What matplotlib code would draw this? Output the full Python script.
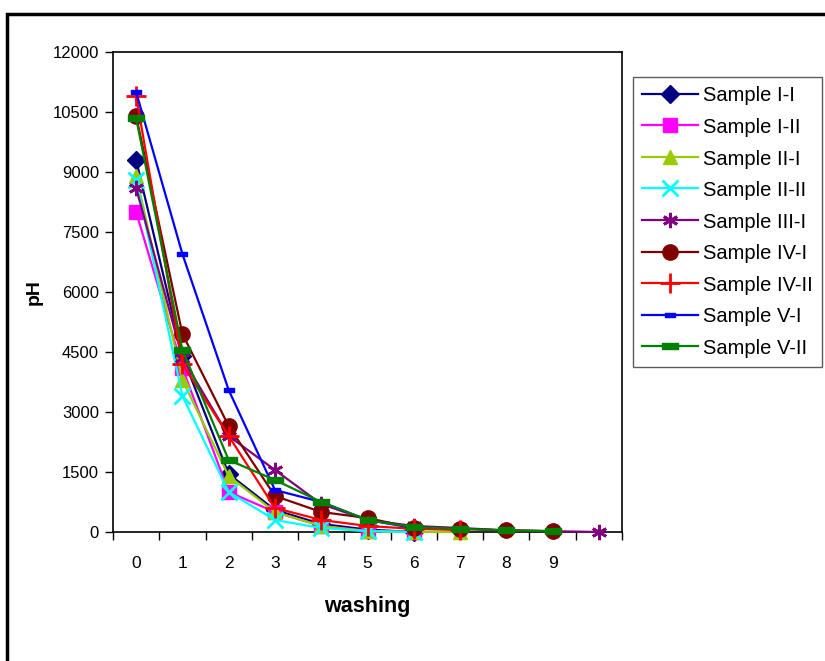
import matplotlib
matplotlib.use("Agg")
import matplotlib.pyplot as plt
from matplotlib.patches import Rectangle
from matplotlib.path import Path

plt.rcParams['font.family'] = ['Liberation Sans', 'DejaVu Sans']

categories = ['0', '1', '2', '3', '4', '5', '6', '7', '8', '9', '']
series_names = ['Sample I-I', 'Sample I-II', 'Sample II-I', 'Sample II-II', 'Sample III-I',
                'Sample IV-I', 'Sample IV-II', 'Sample V-I', 'Sample V-II']
s_I_I = [9300, 4400, 1450, 550, 200, 60, 0]
s_I_II = [8000, 4100, 1000, 500, 150, 30, 0]
s_II_I = [8900, 3800, 1400, 500, 150, 20, 0, 0]
s_II_II = [8800, 3400, 1000, 300, 100, 20, 0]
s_III_I = [8600, 4350, 2400, 1550, 700, 300, 150, 100, 40, 20, 0]
s_IV_I = [10400, 4950, 2650, 900, 500, 350, 100, 80, 40, 20]
s_IV_II = [10900, 4200, 2400, 600, 300, 150, 80, 50]
s_V_I = [11000, 6950, 3550, 1050, 750, 300, 100]
s_V_II = [10350, 4550, 1800, 1300, 750, 300, 120, 80, 40, 20]
all_series = [s_I_I, s_I_II, s_II_I, s_II_II, s_III_I, s_IV_I, s_IV_II, s_V_I, s_V_II]
yticks = [0, 1500, 3000, 4500, 6000, 7500, 9000, 10500, 12000]

colors = ['#000080', '#FF00FF', '#99CC00', '#00FFFF', '#800080', '#800000', '#FF0000', '#0000FF', '#008000']
small_dash = Path([(-1, -0.4), (1, -0.4), (1, 0.4), (-1, 0.4), (-1, -0.4)], closed=True)
markers = ['D', 's', '^', 'x', (6, 2, 0), 'o', '+', small_dash, small_dash]
msizes = [9, 10, 10, 11, 11, 11, 14, 7, 11]
mews = [1, 1, 1, 2, 2, 1, 2, 1, 1]

fig = plt.figure(figsize=(8.25, 6.61), dpi=100)
ax = fig.add_axes([113/825, 1-532/661, (622-113)/825, (532-52)/661])

for name, vals, c, m, ms, mew in zip(series_names, all_series, colors, markers, msizes, mews):
    xs = list(range(len(vals)))
    ax.plot(xs, vals, color=c, lw=1.6, marker=m, markersize=ms, markeredgewidth=mew,
            markerfacecolor=c, markeredgecolor=c, label=name, clip_on=False, zorder=3)

ax.set_xlim(-0.5, len(categories) - 0.5)
ax.set_ylim(0, 12000)
ax.set_yticks(yticks)
ax.set_yticklabels([str(v) for v in yticks], fontsize=12)
ax.set_xticks(range(len(categories)))
ax.set_xticklabels(categories, fontsize=12.5)
ax.tick_params(axis='x', which='major', length=0, pad=17)
ax.set_xticks([i - 0.5 for i in range(len(categories) + 1)], minor=True)
ax.tick_params(axis='x', which='minor', length=6, direction='out', width=1)
ax.tick_params(axis='y', length=6, direction='out', width=1, pad=4)
for sp in ax.spines.values():
    sp.set_linewidth(1.2)
    sp.set_color('black')

ax.set_ylabel('pH', fontsize=14, fontweight='bold', labelpad=7)
ax.set_xlabel('washing', fontsize=15.5, fontweight='bold', labelpad=18)

leg = fig.legend(loc='upper left', bbox_to_anchor=(633/825, 1-77/661), bbox_transform=fig.transFigure,
                 borderaxespad=0, fontsize=14.5, handlelength=2.8, labelspacing=0.61,
                 fancybox=False, frameon=True, edgecolor='#333333', borderpad=0.45,
                 handletextpad=0.25, handleheight=0.9)
leg.get_frame().set_linewidth(1.0)

fig.patches.append(Rectangle((6.5/825, -0.1), 1.2, (661-14)/661 + 0.1, transform=fig.transFigure,
                             fill=False, edgecolor='black', linewidth=2.5, clip_on=False))

fig.savefig('out.png', dpi=100)
